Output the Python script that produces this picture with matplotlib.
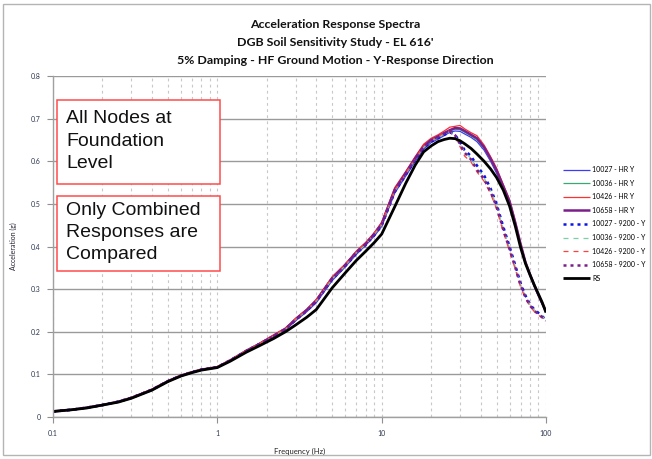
import matplotlib.pyplot as plt
from matplotlib.patches import Rectangle
from matplotlib.ticker import FixedLocator, FixedFormatter, NullFormatter

# frequency grid (Hz) shared by every spectrum
freq = [0.1, 0.13, 0.16, 0.2, 0.25, 0.3, 0.4, 0.5, 0.6, 0.7, 0.8, 1.0,
        1.2, 1.5, 1.8, 2.2, 2.6, 3.0, 3.5, 4.0,
        5.0, 6.0, 7.0, 8.0, 9.0, 10.0,
        12, 14, 16, 18, 20, 22, 24, 26, 28, 30, 32,
        35, 38, 42, 46, 50, 55, 60, 65, 70, 75, 80, 85, 90, 95, 100]

# HR Y responses (g)
hr_10027 = [0.013, 0.017, 0.022, 0.028, 0.036, 0.045, 0.064, 0.083, 0.097, 0.105, 0.111, 0.117,
            0.132, 0.154, 0.170, 0.188, 0.205, 0.226, 0.247, 0.268,
            0.320, 0.352, 0.381, 0.403, 0.424, 0.447,
            0.525, 0.565, 0.600, 0.628, 0.644, 0.652, 0.660, 0.668, 0.671, 0.670, 0.664,
            0.656, 0.646, 0.626, 0.600, 0.572, 0.536, 0.500, 0.452, 0.402, 0.360, 0.332, 0.306, 0.284, 0.264, 0.246]
hr_10036 = [0.013, 0.017, 0.022, 0.028, 0.036, 0.045, 0.064, 0.084, 0.097, 0.105, 0.111, 0.117,
            0.133, 0.155, 0.171, 0.190, 0.206, 0.228, 0.249, 0.271,
            0.323, 0.354, 0.384, 0.405, 0.427, 0.450,
            0.530, 0.569, 0.604, 0.632, 0.647, 0.655, 0.663, 0.671, 0.675, 0.674, 0.668,
            0.659, 0.650, 0.630, 0.603, 0.576, 0.538, 0.503, 0.454, 0.404, 0.361, 0.333, 0.307, 0.285, 0.265, 0.247]
hr_10426 = [0.013, 0.017, 0.022, 0.029, 0.036, 0.046, 0.065, 0.085, 0.098, 0.106, 0.112, 0.118,
            0.134, 0.157, 0.173, 0.193, 0.209, 0.232, 0.253, 0.276,
            0.329, 0.359, 0.389, 0.410, 0.432, 0.457,
            0.538, 0.576, 0.611, 0.640, 0.654, 0.662, 0.671, 0.680, 0.682, 0.684, 0.676,
            0.667, 0.660, 0.638, 0.611, 0.584, 0.545, 0.510, 0.460, 0.409, 0.365, 0.336, 0.310, 0.288, 0.267, 0.249]
hr_10658 = [0.013, 0.017, 0.022, 0.028, 0.036, 0.045, 0.064, 0.084, 0.097, 0.105, 0.111, 0.117,
            0.133, 0.155, 0.171, 0.190, 0.207, 0.229, 0.251, 0.273,
            0.326, 0.356, 0.386, 0.406, 0.429, 0.453,
            0.533, 0.572, 0.607, 0.635, 0.650, 0.658, 0.666, 0.673, 0.678, 0.677, 0.671,
            0.662, 0.654, 0.633, 0.606, 0.579, 0.541, 0.506, 0.456, 0.406, 0.363, 0.334, 0.308, 0.286, 0.266, 0.248]

# 9200 - Y responses (g)
y9200_10027 = [0.013, 0.017, 0.022, 0.028, 0.036, 0.045, 0.064, 0.084, 0.097, 0.105, 0.111, 0.117,
               0.133, 0.154, 0.171, 0.189, 0.206, 0.228, 0.249, 0.271,
               0.323, 0.354, 0.383, 0.404, 0.426, 0.449,
               0.528, 0.568, 0.603, 0.631, 0.646, 0.654, 0.662, 0.668, 0.662, 0.644, 0.626,
               0.612, 0.590, 0.567, 0.536, 0.500, 0.446, 0.400, 0.356, 0.314, 0.285, 0.264, 0.252, 0.244, 0.236, 0.228]
y9200_10036 = [0.013, 0.017, 0.022, 0.028, 0.036, 0.045, 0.064, 0.084, 0.097, 0.105, 0.111, 0.117,
               0.133, 0.155, 0.171, 0.190, 0.206, 0.229, 0.250, 0.272,
               0.324, 0.355, 0.385, 0.405, 0.428, 0.451,
               0.530, 0.570, 0.605, 0.633, 0.648, 0.656, 0.664, 0.670, 0.660, 0.641, 0.622,
               0.606, 0.584, 0.561, 0.531, 0.496, 0.441, 0.396, 0.353, 0.311, 0.283, 0.263, 0.251, 0.243, 0.236, 0.227]
y9200_10426 = [0.013, 0.017, 0.022, 0.029, 0.036, 0.046, 0.065, 0.085, 0.098, 0.106, 0.112, 0.118,
               0.134, 0.156, 0.172, 0.192, 0.208, 0.231, 0.252, 0.275,
               0.328, 0.358, 0.388, 0.409, 0.431, 0.455,
               0.532, 0.572, 0.607, 0.636, 0.650, 0.658, 0.667, 0.672, 0.656, 0.634, 0.612,
               0.598, 0.575, 0.553, 0.524, 0.488, 0.434, 0.389, 0.347, 0.305, 0.278, 0.259, 0.247, 0.239, 0.232, 0.224]
y9200_10658 = [0.013, 0.017, 0.022, 0.028, 0.036, 0.045, 0.064, 0.084, 0.097, 0.105, 0.111, 0.117,
               0.133, 0.155, 0.171, 0.190, 0.207, 0.229, 0.250, 0.272,
               0.325, 0.356, 0.386, 0.406, 0.429, 0.452,
               0.531, 0.571, 0.606, 0.634, 0.649, 0.657, 0.665, 0.671, 0.661, 0.640, 0.620,
               0.604, 0.580, 0.558, 0.528, 0.494, 0.439, 0.394, 0.351, 0.309, 0.281, 0.261, 0.249, 0.241, 0.234, 0.226]

# required spectrum (g)
rs = [0.013, 0.017, 0.021, 0.028, 0.035, 0.044, 0.063, 0.083, 0.096, 0.104, 0.110, 0.116,
      0.131, 0.152, 0.167, 0.184, 0.200, 0.216, 0.234, 0.252,
      0.303, 0.338, 0.367, 0.389, 0.409, 0.429,
      0.493, 0.548, 0.591, 0.622, 0.636, 0.646, 0.651, 0.654, 0.653, 0.648, 0.641,
      0.630, 0.617, 0.600, 0.582, 0.562, 0.532, 0.495, 0.448, 0.398, 0.360, 0.333, 0.309, 0.288, 0.268, 0.245]

labels = ['10027 - HR Y', '10036 - HR Y', '10426 - HR Y', '10658 - HR Y',
          '10027 - 9200 - Y', '10036 - 9200 - Y', '10426 - 9200 - Y', '10658 - 9200 - Y', 'RS']
series = [hr_10027, hr_10036, hr_10426, hr_10658,
          y9200_10027, y9200_10036, y9200_10426, y9200_10658, rs]
styles = [
    dict(color='#3b3bff', lw=0.9, ls='-'),
    dict(color='#3aa876', lw=0.9, ls='-'),
    dict(color='#ff3030', lw=0.9, ls='-'),
    dict(color='#7a1f8a', lw=1.8, ls='-'),
    dict(color='#0a14e6', lw=1.8, ls=(0, (1.2, 1.6))),
    dict(color='#7ccfa6', lw=0.9, ls=(0, (4, 4))),
    dict(color='#ff4040', lw=0.9, ls=(0, (4, 4))),
    dict(color='#7a1f8a', lw=1.8, ls=(0, (1.2, 1.6))),
    dict(color='black', lw=2.0, ls='-'),
]

yticks = [0, 0.1, 0.2, 0.3, 0.4, 0.5, 0.6, 0.7, 0.8]
ytick_labels = ['0', '0.1', '0.2', '0.3', '0.4', '0.5', '0.6', '0.7', '0.8']
xticks = [0.1, 1, 10, 100]
xtick_labels = ['0.1', '1', '10', '100']

W, H = 652, 459
fig = plt.figure(figsize=(W / 100, H / 100), dpi=100)
ax = fig.add_axes([53 / W, 1 - 417 / H, (546 - 53) / W, (417 - 76) / H])

for y, lab, st in zip(series, labels, styles):
    ax.plot(freq, y, label=lab, solid_capstyle='butt', **st)

ax.set_xscale('log')
ax.set_xlim(0.1, 100)
ax.set_ylim(0, 0.8)

tick_col = '#2a3550'
ax.xaxis.set_major_locator(FixedLocator(xticks))
ax.xaxis.set_major_formatter(FixedFormatter(xtick_labels))
ax.xaxis.set_minor_formatter(NullFormatter())
ax.yaxis.set_major_locator(FixedLocator(yticks))
ax.yaxis.set_major_formatter(FixedFormatter(ytick_labels))
ax.tick_params(axis='both', which='major', labelsize=5, colors='#909090', labelcolor=tick_col,
               length=4, width=0.8, direction='out', pad=5)
ax.tick_params(axis='x', which='minor', length=0)
for lab in ax.get_xticklabels() + ax.get_yticklabels():
    lab.set_family('Lato')

# grid: solid horizontal lines, dashed verticals at every decade step
ax.set_axisbelow(True)
ax.grid(True, axis='y', which='major', color='#9a9a9a', lw=1.0, ls='-')
ax.grid(True, axis='x', which='both', color='#c8c8c8', lw=0.8, ls=(0, (2.5, 3)))

for side in ['top', 'right']:
    ax.spines[side].set_visible(False)
for side in ['left', 'bottom']:
    ax.spines[side].set_color('#a0a0a0')
    ax.spines[side].set_linewidth(1.0)

ax.set_xlabel('Frequency (Hz)', fontsize=5.5, family='Lato', color='#222222', labelpad=8)
ax.set_ylabel('Acceleration (g)', fontsize=5, family='Lato', color='#222233', labelpad=10)

ax.legend(loc='upper left', bbox_to_anchor=(563 / W, 1 - 166 / H), bbox_transform=fig.transFigure,
          frameon=False, prop={'family': 'Lato', 'size': 5}, borderpad=0, borderaxespad=0,
          handlelength=3.9, handletextpad=0.3, labelspacing=0.95)

# titles
title_lines = ['Acceleration Response Spectra',
               "DGB Soil Sensitivity Study - EL 616'",
               '5% Damping - HF Ground Motion - Y-Response Direction']
for i, t in enumerate(title_lines):
    fig.text(335 / W, 1 - (24 + 18.5 * i) / H, t, ha='center', va='center',
             fontsize=8.9, fontweight='bold', family='Lato', color='#111111')

# note boxes
notes = [('All Nodes at\nFoundation\nLevel', 100, 184),
         ('Only Combined\nResponses are\nCompared', 196, 271)]
for txt, top, bot in notes:
    fig.add_artist(Rectangle((57 / W, 1 - bot / H), (220 - 57) / W, (bot - top) / H,
                             transform=fig.transFigure, facecolor='white', edgecolor='#ff4a4a',
                             lw=1.1, zorder=5))
    fig.text(66 / W, 1 - ((top + bot) / 2 - 1) / H, txt, ha='left', va='center',
             fontsize=14, family='Liberation Sans', color='#111111', linespacing=1.42, zorder=6)

# outer border
fig.add_artist(Rectangle((3 / W, 1 - 455 / H), (650 - 3) / W, (455 - 4) / H,
                         transform=fig.transFigure, facecolor='none', edgecolor='#b4b4b4',
                         lw=1.0, zorder=0))

fig.savefig('out.png', dpi=100)
